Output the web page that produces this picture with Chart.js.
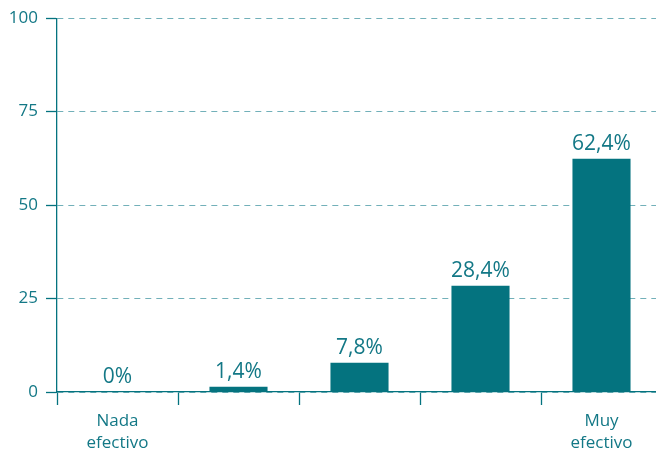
<!DOCTYPE html>
<html>
<head>
<meta charset="utf-8">
<script src="https://cdn.jsdelivr.net/npm/chart.js@4/dist/chart.umd.min.js"></script>
<style>
  html, body { margin: 0; padding: 0; overflow: hidden; background: #fff; }
</style>
</head>
<body>
<canvas id="effChart" width="662" height="450"></canvas>
<script>
// data
const categories = [['Nada', 'efectivo'], '', '', '', ['Muy', 'efectivo']];
const values = [0, 1.4, 7.8, 28.4, 62.4];
const valueLabels = ['0%', '1,4%', '7,8%', '28,4%', '62,4%'];
const yTicks = [0, 25, 50, 75, 100];

const teal = '#04737f';
const textTeal = '#137886';
const gridTeal = '#72b0b9';

// draws the percentage above each bar
const barLabels = {
  id: 'barLabels',
  afterDatasetsDraw(chart) {
    const ctx = chart.ctx;
    const meta = chart.getDatasetMeta(0);
    ctx.save();
    ctx.font = '21px "Open Sans"';
    ctx.fillStyle = textTeal;
    ctx.textAlign = 'center';
    ctx.textBaseline = 'alphabetic';
    meta.data.forEach((bar, i) => {
      ctx.fillText(valueLabels[i], bar.x, bar.y - 9);
    });
    ctx.restore();
  }
};

let effChart = new Chart(document.getElementById('effChart').getContext('2d'), {
  type: 'bar',
  data: {
    labels: categories,
    datasets: [{
      data: values,
      backgroundColor: teal,
      borderWidth: 0,
      categoryPercentage: 1,
      barPercentage: 0.48
    }]
  },
  options: {
    responsive: false,
    animation: false,
    devicePixelRatio: 1,
    layout: { padding: { top: 16, left: 0, right: 0, bottom: 0 } },
    plugins: {
      legend: { display: false },
      tooltip: { enabled: false }
    },
    scales: {
      x: {
        afterFit: s => { s.height = 58; },
        grid: {
          drawOnChartArea: false,
          drawTicks: true,
          tickLength: 13,
          tickColor: teal,
          tickWidth: 1.3,
          offset: true
        },
        border: { color: teal, width: 1.3 },
        ticks: {
          color: textTeal,
          padding: 6,
          maxRotation: 0,
          font: { family: 'Open Sans', size: 17, lineHeight: 1.25 }
        }
      },
      y: {
        min: 0,
        max: 100,
        afterFit: s => { s.width = 57; },
        afterBuildTicks: s => { s.ticks = yTicks.map(v => ({ value: v })); },
        grid: {
          color: gridTeal,
          lineWidth: 1,
          tickLength: 11,
          tickColor: teal,
          tickWidth: 1.3,
          tickBorderDash: []
        },
        border: { color: teal, width: 1.3, dash: [6, 5] },
        ticks: {
          color: textTeal,
          padding: 8,
          font: { family: 'Open Sans', size: 17 }
        }
      }
    }
  },
  plugins: [barLabels]
});
</script>
</body>
</html>
